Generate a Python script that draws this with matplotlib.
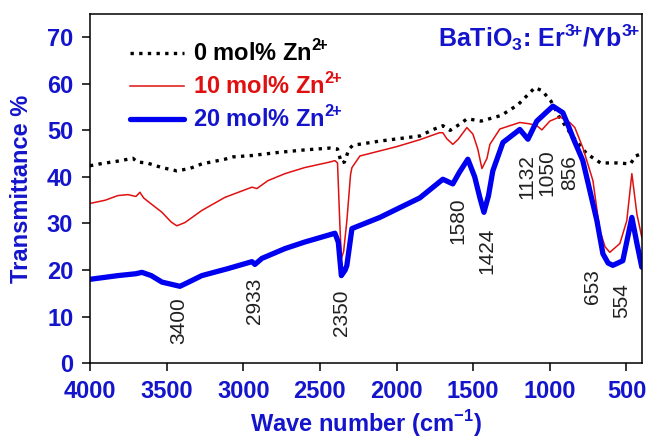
import numpy as np
import matplotlib
matplotlib.use("Agg")
import matplotlib.pyplot as plt

# FTIR spectra (wave number cm-1, transmittance %)
wn_0 = [4000, 3935, 3817, 3720, 3690, 3628, 3530, 3433, 3350, 3270, 3120, 3067,
        2943, 2761, 2600, 2435, 2385, 2360, 2340, 2310, 2285, 2109, 1848, 1760,
        1698, 1650, 1580, 1540, 1448, 1318, 1208, 1097, 1050, 993, 940, 863,
        760, 669, 558, 474, 441, 400]
t_0 = [42.4, 42.8, 43.4, 44.0, 43.2, 43.0, 42.0, 41.3, 41.8, 42.8, 43.8, 44.3,
       44.6, 45.3, 45.8, 46.2, 46.0, 43.0, 43.2, 46.0, 46.8, 47.7, 48.8, 50.2,
       51.0, 50.0, 51.5, 52.5, 52.0, 53.2, 55.5, 59.2, 58.5, 56.3, 53.0, 49.2,
       45.0, 43.0, 43.0, 42.8, 44.5, 45.0]

wn_10 = [4000, 3900, 3817, 3752, 3700, 3674, 3650, 3628, 3530, 3470, 3433, 3380,
         3270, 3120, 2943, 2911, 2839, 2728, 2600, 2435, 2402, 2385, 2370, 2360,
         2345, 2324, 2300, 2291, 2239, 2000, 1848, 1720, 1698, 1672, 1633, 1600,
         1541, 1502, 1470, 1443, 1410, 1391, 1326, 1196, 1130, 1085, 1052, 1000,
         935, 870, 837, 785, 719, 674, 640, 609, 543, 498, 465, 432, 400]
t_10 = [34.3, 35.0, 36.0, 36.2, 35.8, 36.7, 35.5, 34.9, 32.4, 30.3, 29.5, 30.2,
        32.8, 35.6, 37.8, 37.5, 39.2, 40.7, 42.0, 43.2, 43.5, 43.0, 30.0, 22.5,
        24.0, 30.6, 40.5, 42.0, 44.5, 46.5, 48.0, 49.5, 49.5, 48.2, 47.0, 48.0,
        50.6, 49.2, 46.0, 41.8, 44.0, 47.0, 50.3, 51.7, 51.4, 51.0, 50.1, 52.0,
        52.9, 51.7, 50.6, 46.3, 39.2, 28.5, 25.0, 23.8, 25.7, 30.6, 40.7, 32.0, 27.0]

wn_20 = [4000, 3817, 3700, 3661, 3600, 3530, 3413, 3350, 3270, 3100, 2943, 2924,
         2878, 2728, 2600, 2402, 2380, 2360, 2335, 2324, 2291, 2109, 1848, 1698,
         1633, 1590, 1535, 1490, 1457, 1430, 1400, 1372, 1306, 1196, 1143, 1100,
         1085, 980, 915, 870, 850, 785, 693, 654, 620, 589, 524, 465, 432, 400]
t_20 = [18.0, 18.8, 19.2, 19.5, 18.8, 17.4, 16.5, 17.5, 18.8, 20.3, 21.8, 21.2,
        22.5, 24.6, 26.0, 27.9, 26.0, 18.8, 20.0, 21.0, 28.9, 31.3, 35.5, 39.5,
        38.5, 41.0, 43.8, 40.0, 35.6, 32.4, 36.0, 41.3, 47.4, 50.2, 48.1, 51.0,
        52.0, 55.2, 53.8, 50.2, 48.5, 43.5, 30.6, 23.5, 21.5, 21.0, 22.0, 31.3,
        25.7, 20.6]

series_labels = [r"0 mol% Zn$^{\mathbf{2}\!\mathbf{+}}$",
                 r"10 mol% Zn$^{\mathbf{2}\!\mathbf{+}}$",
                 r"20 mol% Zn$^{\mathbf{2}\!\mathbf{+}}$"]

peak_labels = ["3400", "2933", "2350", "1580", "1424", "1132", "1050", "856", "653", "554"]
peak_x = [3420, 2924, 2357, 1600, 1411, 1150, 1020, 870, 719, 530]
peak_y = [9.2, 13.3, 10.9, 30.6, 24.2, 40.0, 40.9, 41.0, 16.5, 13.5]

xticks = [4000, 3500, 3000, 2500, 2000, 1500, 1000, 500]
yticks = [0, 10, 20, 30, 40, 50, 60, 70]

BLUE_TXT = "#1414cc"

plt.rcParams["font.family"] = ["Liberation Sans", "DejaVu Sans"]
plt.rcParams["mathtext.fontset"] = "custom"
plt.rcParams["mathtext.rm"] = "Liberation Sans"
plt.rcParams["mathtext.bf"] = "Liberation Sans:bold"
plt.rcParams["axes.linewidth"] = 1.1


def main():
    fig = plt.figure(figsize=(6.47, 4.38), dpi=100)
    ax = fig.add_axes([0.139, 0.171, 0.853, 0.797])

    ax.plot(wn_0, t_0, color="black", lw=2.4, linestyle=(0, (1, 1.6)),
            label=series_labels[0])
    ax.plot(wn_10, t_10, color="#e01010", lw=1.1, label=series_labels[1])
    ax.plot(wn_20, t_20, color="#0000f0", lw=3.8, solid_capstyle="round",
            label=series_labels[2])

    for lab, x, y in zip(peak_labels, peak_x, peak_y):
        ax.text(x, y, lab, rotation=90, ha="center", va="center", fontsize=15,
                color="#202020")

    ax.text(0.995, 0.975,
            r"BaTiO$_\mathbf{3}$: Er$^{\mathbf{3}\!\mathbf{+}}$/Yb$^{\mathbf{3}\!\mathbf{+}}$",
            transform=ax.transAxes, ha="right", va="top", fontsize=18,
            fontweight="bold", color=BLUE_TXT)

    ax.set_xlim(4000, 400)
    ax.set_ylim(0, 75)
    ax.set_xticks(xticks)
    ax.set_yticks(yticks)
    ax.tick_params(direction="out", length=6, width=1.1, pad=6,
                   labelsize=17, labelcolor=BLUE_TXT)
    for lab in ax.get_xticklabels() + ax.get_yticklabels():
        lab.set_fontweight("bold")

    ax.set_xlabel(r"Wave number (cm$^{\mathbf{-1}}$)", fontsize=17,
                  fontweight="bold", color=BLUE_TXT, labelpad=4)
    ax.set_ylabel("Transmittance %", fontsize=17, fontweight="bold",
                  color=BLUE_TXT, labelpad=10)

    leg = ax.legend(loc="upper left", bbox_to_anchor=(0.072, 0.925), frameon=False,
                    handlelength=2.3, handletextpad=0.4,
                    labelspacing=0.3, borderpad=0, borderaxespad=0,
                    prop={"weight": "bold", "size": 17})
    for txt, c in zip(leg.get_texts(), ["black", "#e01010", BLUE_TXT]):
        txt.set_color(c)

    fig.savefig("out.png", dpi=100)


if __name__ == "__main__":
    main()
